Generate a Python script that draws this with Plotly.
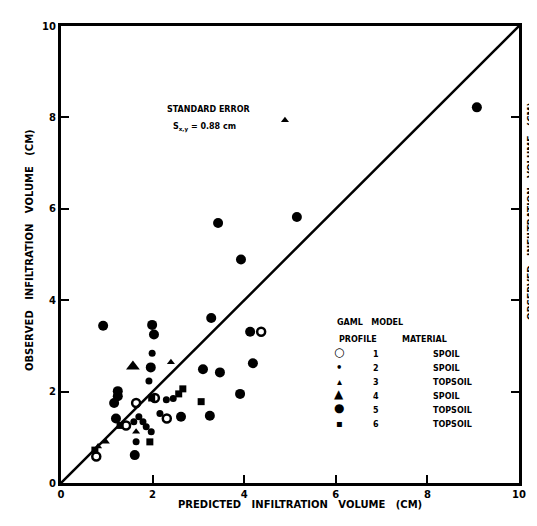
import plotly.graph_objects as go

# ---- data ----
p1_x = [4.37, 2.31, 2.05, 1.64, 0.77, 1.42]
p1_y = [3.31, 1.41, 1.86, 1.75, 0.58, 1.26]
p2_x = [1.99, 1.92, 1.59, 1.79, 1.86, 1.97, 1.64, 1.70, 2.30, 2.45, 2.16]
p2_y = [2.84, 2.23, 1.34, 1.34, 1.23, 1.12, 0.90, 1.45, 1.82, 1.85, 1.52]
p3_x = [4.89, 2.40, 0.98, 0.81, 1.64]
p3_y = [7.94, 2.64, 0.90, 0.80, 1.12]
p4_x = [1.57]
p4_y = [2.55]
p5_x = [9.08, 5.15, 3.43, 3.93, 0.92, 1.99, 2.03, 3.28, 1.96, 3.10, 3.47,
        4.19, 3.91, 3.25, 2.62, 4.13, 1.24, 1.24, 1.16, 1.20, 1.61]
p5_y = [8.22, 5.82, 5.69, 4.89, 3.44, 3.46, 3.25, 3.61, 2.53, 2.49, 2.42,
        2.62, 1.95, 1.47, 1.45, 3.31, 2.01, 1.90, 1.75, 1.41, 0.61]
p6_x = [3.06, 1.94, 2.57, 2.66, 1.29, 0.74, 1.98]
p6_y = [1.78, 0.90, 1.95, 2.06, 1.26, 0.72, 1.86]

line_x = [0, 10]
line_y = [0, 10]

tick_vals = [0, 2, 4, 6, 8, 10]
profiles = ["1", "2", "3", "4", "5", "6"]
materials = ["SPOIL", "SPOIL", "TOPSOIL", "SPOIL", "TOPSOIL", "TOPSOIL"]
legend_glyphs = ["\u25CB", "\u2022", "\u25B4", "\u25B2", "\u25CF", "\u25AA"]

FONT = "DejaVu Sans"
W, H = 537, 526
L, R, T, B = 53, 511, 13, 475

def px(x):
    return (x - L) / (R - L)

def py(y):
    return (B - y) / (B - T)

fig = go.Figure()
fig.add_trace(go.Scatter(x=line_x, y=line_y, mode="lines",
                         line=dict(color="black", width=2.5), hoverinfo="skip"))

series = [
    (p1_x, p1_y, dict(symbol="circle-open", size=8, color="black",
                      line=dict(width=2.5, color="black"))),
    (p2_x, p2_y, dict(symbol="circle", size=7, color="black")),
    (p3_x, p3_y, dict(symbol="triangle-up", size=7, color="black")),
    (p4_x, p4_y, dict(symbol="triangle-up", size=12, color="black")),
    (p5_x, p5_y, dict(symbol="circle", size=10, color="black")),
    (p6_x, p6_y, dict(symbol="square", size=7, color="black")),
]
for xs, ys, mk in series:
    fig.add_trace(go.Scatter(x=xs, y=ys, mode="markers", marker=mk))

axis_common = dict(
    range=[0, 10], tickvals=tick_vals, ticks="inside", ticklen=8, tickwidth=2,
    tickcolor="black", showline=True, linewidth=3, linecolor="black",
    showgrid=False, zeroline=False,
    tickfont=dict(family=FONT, size=10, color="black", weight="bold"),
)
fig.update_xaxes(**axis_common, mirror=True)
fig.update_yaxes(**axis_common, mirror="ticks")

ann = []
lab = dict(family=FONT, size=10, color="black", weight="bold")
ann.append(dict(text="PREDICTED&nbsp;&nbsp; INFILTRATION&nbsp;&nbsp; VOLUME&nbsp;&nbsp; (CM)",
                x=px(292), y=py(504), xref="paper", yref="paper",
                showarrow=False, font=lab))
ann.append(dict(text="OBSERVED&nbsp;&nbsp; INFILTRATION&nbsp;&nbsp; VOLUME&nbsp;&nbsp; (CM)",
                x=px(14), y=py(240), xref="paper", yref="paper", textangle=-90,
                showarrow=False, font=lab))
ann.append(dict(text="OBSERVED&nbsp;&nbsp; INFILTRATION&nbsp;&nbsp; VOLUME&nbsp;&nbsp; (CM)",
                x=px(530), y=py(200), xref="paper", yref="paper", textangle=-90,
                showarrow=False, font=dict(family=FONT, size=9, color="black", weight="bold")))
small = dict(family=FONT, size=8, color="black", weight="bold")
ann.append(dict(text="STANDARD ERROR", x=px(157), y=py(91), xref="paper", yref="paper",
                showarrow=False, font=small))
ann.append(dict(text="S<sub>x,y</sub> = 0.88 cm", x=px(163), y=py(108), xref="paper",
                yref="paper", showarrow=False, font=small))
ann.append(dict(text="GAML&nbsp;&nbsp; MODEL", x=px(397), y=py(313), xref="paper",
                yref="paper", showarrow=False, font=small))
ann.append(dict(text="PROFILE", x=px(371), y=py(337), xref="paper", yref="paper",
                showarrow=False, font=small))
ann.append(dict(text="MATERIAL", x=px(441), y=py(337), xref="paper", yref="paper",
                showarrow=False, font=small))
row_y0, row_dy = 352, 14
for i, (g, p, m) in enumerate(zip(legend_glyphs, profiles, materials)):
    yy = py(row_y0 + i * row_dy)
    gsize = 12 if i in (0, 3, 4) else 10
    ann.append(dict(text=g, x=px(331), y=yy, xref="paper", yref="paper",
                    showarrow=False,
                    font=dict(family=FONT, size=gsize, color="black", weight="bold")))
    ann.append(dict(text=p, x=px(373), y=yy, xref="paper", yref="paper",
                    showarrow=False, font=small))
    ann.append(dict(text=m, x=px(423), y=yy, xref="paper", yref="paper",
                    xanchor="left", showarrow=False, font=small))

fig.update_layout(
    width=W, height=H,
    margin=dict(l=L, r=W - R, t=T, b=H - B),
    paper_bgcolor="white", plot_bgcolor="white",
    showlegend=False, annotations=ann,
    font=dict(family=FONT, color="black"),
)
fig.write_html("out.html")
